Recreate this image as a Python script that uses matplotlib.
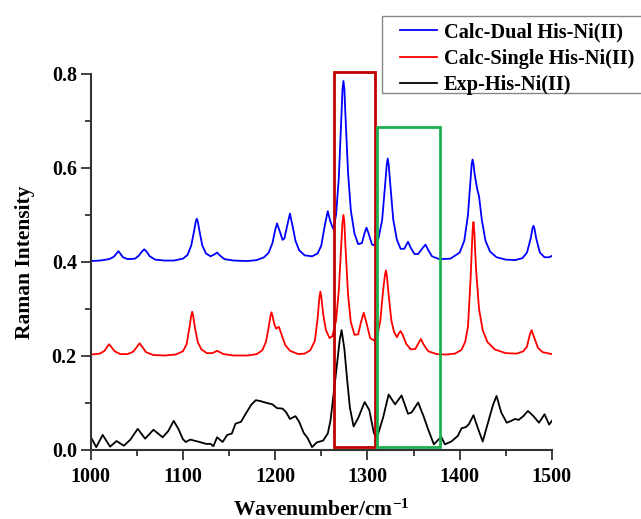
import numpy as np
import matplotlib
matplotlib.use('Agg')
import matplotlib.pyplot as plt
from matplotlib.patches import Rectangle
from matplotlib.ticker import MultipleLocator, FormatStrFormatter

plt.rcParams['font.family'] = ['Liberation Serif', 'DejaVu Serif']
plt.rcParams['font.weight'] = 'bold'
plt.rcParams['mathtext.fontset'] = 'custom'
plt.rcParams['mathtext.rm'] = 'Liberation Serif:bold'
plt.rcParams['mathtext.bf'] = 'Liberation Serif:bold'
plt.rcParams['mathtext.it'] = 'Liberation Serif:bold'

# Calc-Dual His-Ni(II)
dual_x = [1000, 1010, 1020, 1025, 1028, 1030, 1032, 1035, 1040, 1048, 1052, 1055, 1058, 1061, 1064,
          1070, 1080, 1090, 1100, 1105, 1109, 1112, 1114, 1115, 1116, 1118, 1121, 1125, 1130, 1134, 1137, 1140,
          1145, 1155, 1170, 1180, 1188, 1193, 1197, 1200, 1202, 1205, 1208, 1210, 1213, 1216, 1219,
          1222, 1226, 1232, 1240, 1246, 1250, 1254, 1257, 1260, 1263, 1266, 1269, 1272, 1273, 1274, 1275, 1276,
          1279, 1282, 1286, 1290, 1294, 1297, 1299, 1301, 1305, 1308, 1312, 1316, 1319, 1321, 1322, 1323, 1325,
          1328, 1332, 1336, 1340, 1344, 1347, 1351, 1355, 1360, 1363, 1366, 1370, 1378, 1390, 1400,
          1405, 1409, 1412, 1413, 1414, 1415, 1416, 1419, 1421, 1424, 1428, 1433, 1440, 1450, 1460, 1468, 1473,
          1477, 1479, 1480, 1481, 1483, 1487, 1492, 1497, 1500]
dual_y = [0.402, 0.403, 0.406, 0.411, 0.418, 0.423, 0.418, 0.410, 0.406, 0.407, 0.413, 0.421, 0.427, 0.421, 0.412,
          0.405, 0.403, 0.403, 0.407, 0.415, 0.435, 0.465, 0.487, 0.492, 0.487, 0.465, 0.435, 0.418, 0.412, 0.416, 0.420, 0.414,
          0.406, 0.403, 0.402, 0.404, 0.410, 0.420, 0.440, 0.468, 0.482, 0.465, 0.447, 0.450, 0.477, 0.503, 0.475,
          0.445, 0.425, 0.414, 0.412, 0.418, 0.435, 0.480, 0.508, 0.485, 0.470, 0.500, 0.580, 0.720, 0.768, 0.785, 0.768, 0.720,
          0.590, 0.510, 0.460, 0.438, 0.440, 0.462, 0.473, 0.462, 0.437, 0.435, 0.450, 0.490, 0.560, 0.608, 0.620, 0.608, 0.560,
          0.490, 0.447, 0.428, 0.428, 0.443, 0.430, 0.417, 0.417, 0.430, 0.437, 0.425, 0.412, 0.406, 0.407, 0.420,
          0.445, 0.500, 0.580, 0.608, 0.618, 0.608, 0.590, 0.555, 0.540, 0.490, 0.445, 0.422, 0.410, 0.405, 0.404, 0.408, 0.420,
          0.450, 0.472, 0.477, 0.472, 0.450, 0.420, 0.410, 0.410, 0.413]

# Calc-Single His-Ni(II)
single_x = [1000, 1010, 1015, 1018, 1020, 1022, 1026, 1032, 1040, 1046, 1050, 1053, 1056, 1060, 1068,
            1080, 1092, 1100, 1104, 1107, 1109, 1110, 1111, 1113, 1116, 1120, 1126, 1132, 1135, 1137, 1139, 1144,
            1155, 1170, 1180, 1186, 1190, 1193, 1195, 1196, 1197, 1199, 1201, 1204, 1207, 1211, 1216, 1225, 1232,
            1238, 1243, 1246, 1248, 1249, 1250, 1252, 1255, 1259, 1262, 1266, 1269, 1272, 1273, 1274, 1275, 1276, 1279, 1282,
            1286, 1290, 1293, 1296, 1299, 1303, 1307, 1311, 1314, 1317, 1319, 1320, 1321, 1323, 1326, 1329, 1332,
            1334, 1336, 1338, 1342, 1347, 1352, 1355, 1358, 1361, 1366, 1375, 1385, 1395, 1402, 1406,
            1409, 1412, 1413, 1414, 1415, 1416, 1417, 1418, 1421, 1425, 1430, 1438, 1450, 1462, 1469, 1473, 1476, 1478, 1481,
            1485, 1490, 1500]
single_y = [0.203, 0.205, 0.211, 0.220, 0.225, 0.220, 0.210, 0.204, 0.204, 0.209, 0.219, 0.227, 0.219, 0.208, 0.202,
            0.201, 0.203, 0.210, 0.225, 0.260, 0.286, 0.294, 0.286, 0.260, 0.230, 0.214, 0.206, 0.206, 0.209, 0.211, 0.209, 0.204,
            0.201, 0.201, 0.204, 0.212, 0.230, 0.262, 0.286, 0.293, 0.286, 0.268, 0.258, 0.262, 0.245, 0.223, 0.211, 0.204, 0.205,
            0.212, 0.232, 0.280, 0.326, 0.337, 0.326, 0.290, 0.255, 0.238, 0.242, 0.275, 0.340, 0.450, 0.485, 0.500, 0.485, 0.440, 0.330, 0.272,
            0.245, 0.246, 0.272, 0.292, 0.270, 0.238, 0.233, 0.245, 0.275, 0.340, 0.372, 0.382, 0.372, 0.330, 0.275, 0.250, 0.240,
            0.248, 0.253, 0.246, 0.226, 0.214, 0.215, 0.226, 0.236, 0.224, 0.210, 0.204, 0.203, 0.205, 0.213, 0.230,
            0.262, 0.370, 0.420, 0.466, 0.485, 0.460, 0.415, 0.378, 0.300, 0.255, 0.230, 0.214, 0.206, 0.205, 0.210, 0.220, 0.245, 0.255, 0.238,
            0.217, 0.208, 0.204]

# Exp-His-Ni(II)
exp_x = [1000, 1006, 1013, 1021, 1028, 1036, 1043, 1051, 1059, 1068, 1078, 1084, 1090, 1095, 1100,
         1103, 1108, 1118, 1125, 1130, 1133, 1137, 1143, 1148, 1153, 1157, 1163, 1168, 1174, 1179,
         1184, 1191, 1197, 1202, 1208, 1212, 1216, 1222, 1226, 1231, 1235, 1240, 1245, 1252, 1257,
         1260, 1265, 1270, 1272, 1275, 1278, 1281, 1285, 1290, 1297, 1302, 1307, 1310, 1317, 1323,
         1330, 1337, 1344, 1348, 1355, 1361, 1366, 1372, 1375, 1380, 1384, 1391, 1398, 1402, 1407,
         1410, 1415, 1420, 1425, 1431, 1436, 1440, 1445, 1451, 1456, 1460, 1464, 1469, 1474, 1480,
         1486, 1492, 1497, 1500]
exp_y = [0.028, 0.006, 0.032, 0.007, 0.019, 0.009, 0.022, 0.045, 0.024, 0.043, 0.027, 0.040, 0.062, 0.045, 0.023,
         0.017, 0.022, 0.017, 0.013, 0.013, 0.008, 0.027, 0.017, 0.032, 0.035, 0.056, 0.060, 0.077, 0.096, 0.106,
         0.104, 0.100, 0.097, 0.089, 0.088, 0.080, 0.066, 0.072, 0.060, 0.036, 0.026, 0.006, 0.016, 0.020, 0.035,
         0.063, 0.147, 0.235, 0.255, 0.215, 0.150, 0.090, 0.050, 0.068, 0.102, 0.085, 0.036, 0.024, 0.069, 0.118,
         0.097, 0.116, 0.077, 0.080, 0.101, 0.071, 0.043, 0.012, 0.018, 0.028, 0.012, 0.018, 0.030, 0.046, 0.049,
         0.055, 0.074, 0.045, 0.018, 0.060, 0.095, 0.115, 0.080, 0.058, 0.062, 0.066, 0.064, 0.072, 0.083, 0.072,
         0.058, 0.076, 0.054, 0.062]

W, H = 641, 519
fig = plt.figure(figsize=(W / 100, H / 100), dpi=100)
ax = fig.add_axes([0.1415, 0.133, 0.7195, 0.7245])

ax.plot(dual_x, dual_y, color='#0000ff', lw=1.3, label='Calc-Dual His-Ni(II)')
ax.plot(single_x, single_y, color='#ff0000', lw=1.3, label='Calc-Single His-Ni(II)')
ax.plot(exp_x, exp_y, color='black', lw=1.3, label='Exp-His-Ni(II)')

# highlight boxes
ax.add_patch(Rectangle((1264, 0.007), 44, 0.797, fill=False, ec='#c00000', lw=2.0,
                       clip_on=False, zorder=5))
ax.add_patch(Rectangle((1310, 0.007), 69, 0.680, fill=False, ec='#1db04f', lw=2.0,
                       clip_on=False, zorder=5))

ax.set_xlim(1000, 1500)
ax.set_ylim(0, 0.8)
ax.xaxis.set_major_locator(MultipleLocator(100))
ax.xaxis.set_minor_locator(MultipleLocator(50))
ax.yaxis.set_major_locator(MultipleLocator(0.2))
ax.yaxis.set_minor_locator(MultipleLocator(0.1))
ax.yaxis.set_major_formatter(FormatStrFormatter('%.1f'))
ax.tick_params(which='major', length=7, width=1.3, labelsize=14.5, color='#333333')
ax.tick_params(which='minor', length=4, width=1.3, color='#333333')
ax.tick_params(axis='x', which='major', pad=5)
ax.tick_params(axis='y', which='major', pad=3)

for side in ['top', 'right']:
    ax.spines[side].set_visible(False)
for side in ['left', 'bottom']:
    ax.spines[side].set_linewidth(1.5)
    ax.spines[side].set_color('#333333')

ax.set_xlabel(r'Wavenumber/cm$^{-1}$', fontsize=15.5, fontweight='bold', labelpad=9)
ax.set_ylabel('Raman Intensity', fontsize=15.5, fontweight='bold', labelpad=12)

# legend: entries without frame, frame drawn as a box running off the right edge
leg = fig.legend(loc='upper left', bbox_to_anchor=(400 / W, 1 - 22 / H),
                 fontsize=14.7, frameon=False, handlelength=1.81,
                 handletextpad=0.34, borderpad=0, labelspacing=0.33, borderaxespad=0)
fig.add_artist(Rectangle((382 / W, 1 - 92.5 / H), 0.5, 76.5 / H, transform=fig.transFigure,
                         fill=False, ec='#888888', lw=1.0))

fig.savefig('out.png', dpi=100)
